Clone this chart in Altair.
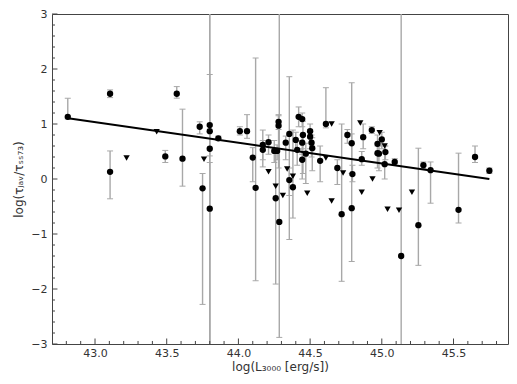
import altair as alt
import pandas as pd

# ---- detections (circles) with error bars ----
det_x = [42.81, 43.105, 43.105, 43.49, 43.57, 43.61, 43.73, 43.75, 43.80, 43.80,
         43.80, 43.80, 43.86, 44.01, 44.06, 44.10, 44.12, 44.17, 44.17, 44.21,
         44.25, 44.27, 44.28, 44.28, 44.26, 44.285, 44.33, 44.355, 44.355, 44.38,
         44.40, 44.42, 44.445, 44.45, 44.445, 44.41, 44.47, 44.445, 44.50, 44.50,
         44.51, 44.515, 44.57, 44.61, 44.69, 44.72, 44.76, 44.79, 44.795, 44.79,
         44.87, 44.86, 44.93, 45.00, 44.97, 44.97, 44.98, 45.025, 45.02, 45.09,
         45.135, 45.255, 45.29, 45.34, 45.535, 45.65, 45.75]
det_y = [1.13, 1.55, 0.13, 0.41, 1.55, 0.37, 0.95, -0.17, 0.98, 0.87,
         0.55, -0.54, 0.74, 0.87, 0.87, 0.39, -0.16, 0.62, 0.53, 0.67,
         0.51, 0.51, 1.04, 0.97, -0.35, -0.78, 0.66, 0.82, -0.02, -0.15,
         0.71, 1.13, 1.09, 0.80, 0.66, 0.53, 0.46, 0.35, 0.87, 0.77,
         0.66, 0.56, 0.33, 1.00, 0.20, -0.64, 0.80, 0.65, 0.09, -0.53,
         0.76, 0.36, 0.89, 0.72, 0.64, 0.47, 0.46, 0.49, 0.27, 0.31,
         -1.40, -0.84, 0.25, 0.16, -0.56, 0.40, 0.15]
det_lo = [1.09, 1.48, -0.36, 0.30, 1.47, -0.13, 0.82, -2.28, -5.0, 0.42,
          -5.0, -5.0, 0.70, 0.80, 0.74, -0.05, -1.85, 0.22, 0.35, 0.45,
          0.30, 0.35, 0.90, 0.20, -1.91, -2.88, 0.35, -1.10, -0.30, -0.71,
          0.50, 0.95, 0.95, 0.10, 0.45, 0.25, -0.08, 0.00, 0.75, 0.55,
          0.40, 0.15, -0.05, 0.93, -0.10, -1.86, 0.65, 0.10, -0.05, -1.50,
          0.55, 0.25, 0.83, 0.55, 0.30, 0.20, 0.15, 0.35, 0.00, 0.25,
          -5.0, -1.57, 0.19, -0.44, -0.80, 0.30, 0.10]
det_hi = [1.47, 1.62, 0.51, 0.52, 1.68, 1.27, 1.04, 0.10, 5.0, 1.90,
          5.0, 0.30, 0.78, 0.95, 1.17, 0.57, 2.20, 0.89, 0.70, 0.80,
          0.70, 0.62, 1.17, 1.15, 0.55, 5.0, 0.78, 1.86, 0.20, 0.89,
          0.85, 1.31, 1.20, 1.05, 0.80, 0.70, 0.65, 0.55, 1.00, 0.90,
          0.80, 0.75, 0.60, 1.66, 0.35, 1.00, 0.90, 0.82, 0.25, 1.75,
          1.00, 0.50, 0.95, 0.85, 0.80, 0.60, 0.60, 0.60, 0.60, 0.37,
          5.0, 0.56, 0.31, 0.31, 0.47, 0.60, 0.20]

# ---- upper limits (down triangles) ----
lim_x = [43.22, 43.43, 43.76, 44.21, 44.26, 44.31, 44.34, 44.38, 44.48, 44.61,
         44.65, 44.65, 44.73, 44.85, 44.86, 44.935, 44.985, 45.02, 45.04, 45.12, 45.21]
lim_y = [0.38, 0.86, 0.36, 0.13, -0.13, -0.30, 0.18, 0.05, -0.26, 0.38,
         1.00, -0.40, 0.11, 1.02, -0.24, 0.00, 0.84, 0.60, -0.55, -0.57, -0.24]

# ---- fitted relation ----
fit_x = [42.80, 45.75]
fit_y = [1.11, 0.00]

# ---- axis ticks ----
x_major = [43.0, 43.5, 44.0, 44.5, 45.0, 45.5]
x_minor = [42.8, 42.9, 43.1, 43.2, 43.3, 43.4, 43.6, 43.7, 43.8, 43.9, 44.1, 44.2,
           44.3, 44.4, 44.6, 44.7, 44.8, 44.9, 45.1, 45.2, 45.3, 45.4, 45.6, 45.7, 45.8]
y_major = [-3, -2, -1, 0, 1, 2, 3]
y_minor = [-2.8, -2.6, -2.4, -2.2, -1.8, -1.6, -1.4, -1.2, -0.8, -0.6, -0.4, -0.2,
           0.2, 0.4, 0.6, 0.8, 1.2, 1.4, 1.6, 1.8, 2.2, 2.4, 2.6, 2.8]

X_DOM = [42.70, 45.88]
Y_DOM = [-3, 3]
XT = "log(L₃₀₀₀ [erg/s])"
YT = "log(τⱼₐᵥ/τₛₛ₇₃)"

xs = alt.Scale(domain=X_DOM, nice=False, zero=False)
ys = alt.Scale(domain=Y_DOM, nice=False, zero=False)
xaxis = alt.Axis(values=x_major, format=".1f", ticks=False, domain=False, grid=False,
                 labelPadding=3, titlePadding=3)
yaxis = alt.Axis(values=y_major, format="d", ticks=False, domain=False, grid=False,
                 labelPadding=5, titlePadding=5)


def X(f):
    return alt.X(f, type="quantitative", scale=xs, axis=xaxis, title=XT)


def Y(f):
    return alt.Y(f, type="quantitative", scale=ys, axis=yaxis, title=YT)


det = pd.DataFrame({"x": det_x, "y": det_y, "lo": det_lo, "hi": det_hi})
lim = pd.DataFrame({"x": lim_x, "y": lim_y})
fit = pd.DataFrame({"x": fit_x, "y": fit_y})
xmaj = pd.DataFrame({"v": x_major})
xmin = pd.DataFrame({"v": x_minor})
ymaj = pd.DataFrame({"v": y_major})
ymin = pd.DataFrame({"v": y_minor})

EC = "#a8a8a8"
bars = alt.Chart(det).mark_rule(color=EC, strokeWidth=1.4, clip=True).encode(
    x=X("x"), y=Y("lo"), y2="hi:Q")
cap_lo = alt.Chart(det).mark_tick(orient="horizontal", size=6, thickness=1, color=EC,
                                  clip=True, opacity=1).encode(x=X("x"), y=Y("lo"))
cap_hi = alt.Chart(det).mark_tick(orient="horizontal", size=6, thickness=1, color=EC,
                                  clip=True, opacity=1).encode(x=X("x"), y=Y("hi"))
line = alt.Chart(fit).mark_line(color="black", strokeWidth=2).encode(x=X("x"), y=Y("y"))
pts = alt.Chart(det).mark_point(shape="circle", filled=True, size=40, color="black",
                                opacity=1).encode(x=X("x"), y=Y("y"))
tri = alt.Chart(lim).mark_point(shape="triangle-down", filled=True, size=40, color="black",
                                opacity=1).encode(x=X("x"), y=Y("y"))

TC = "#444444"
xt_major = alt.Chart(xmaj).mark_rule(color=TC, strokeWidth=1).encode(
    x=X("v"), y=alt.datum(-3.0), y2=alt.datum(-2.9))
xt_minor = alt.Chart(xmin).mark_rule(color=TC, strokeWidth=1).encode(
    x=X("v"), y=alt.datum(-3.0), y2=alt.datum(-2.945))
yt_major = alt.Chart(ymaj).mark_rule(color=TC, strokeWidth=1).encode(
    y=Y("v"), x=alt.datum(42.70), x2=alt.datum(42.738))
yt_minor = alt.Chart(ymin).mark_rule(color=TC, strokeWidth=1).encode(
    y=Y("v"), x=alt.datum(42.70), x2=alt.datum(42.721))

chart = alt.layer(bars, cap_lo, cap_hi, line, pts, tri,
                  xt_major, xt_minor, yt_major, yt_minor).properties(
    width=456, height=330,
    autosize=alt.AutoSizeParams(type="none"),
    padding={"left": 44, "top": 6, "right": 1, "bottom": 32},
).configure(
    font="DejaVu Sans",
).configure_view(
    stroke="#444444", strokeWidth=1
).configure_axis(
    labelFont="DejaVu Sans", labelFontSize=11, labelColor="#333333",
    titleFont="DejaVu Sans", titleFontSize=12, titleFontWeight="normal",
    titleColor="#333333",
)

chart.save("out.html", embed_options={"renderer": "svg", "actions": False})
